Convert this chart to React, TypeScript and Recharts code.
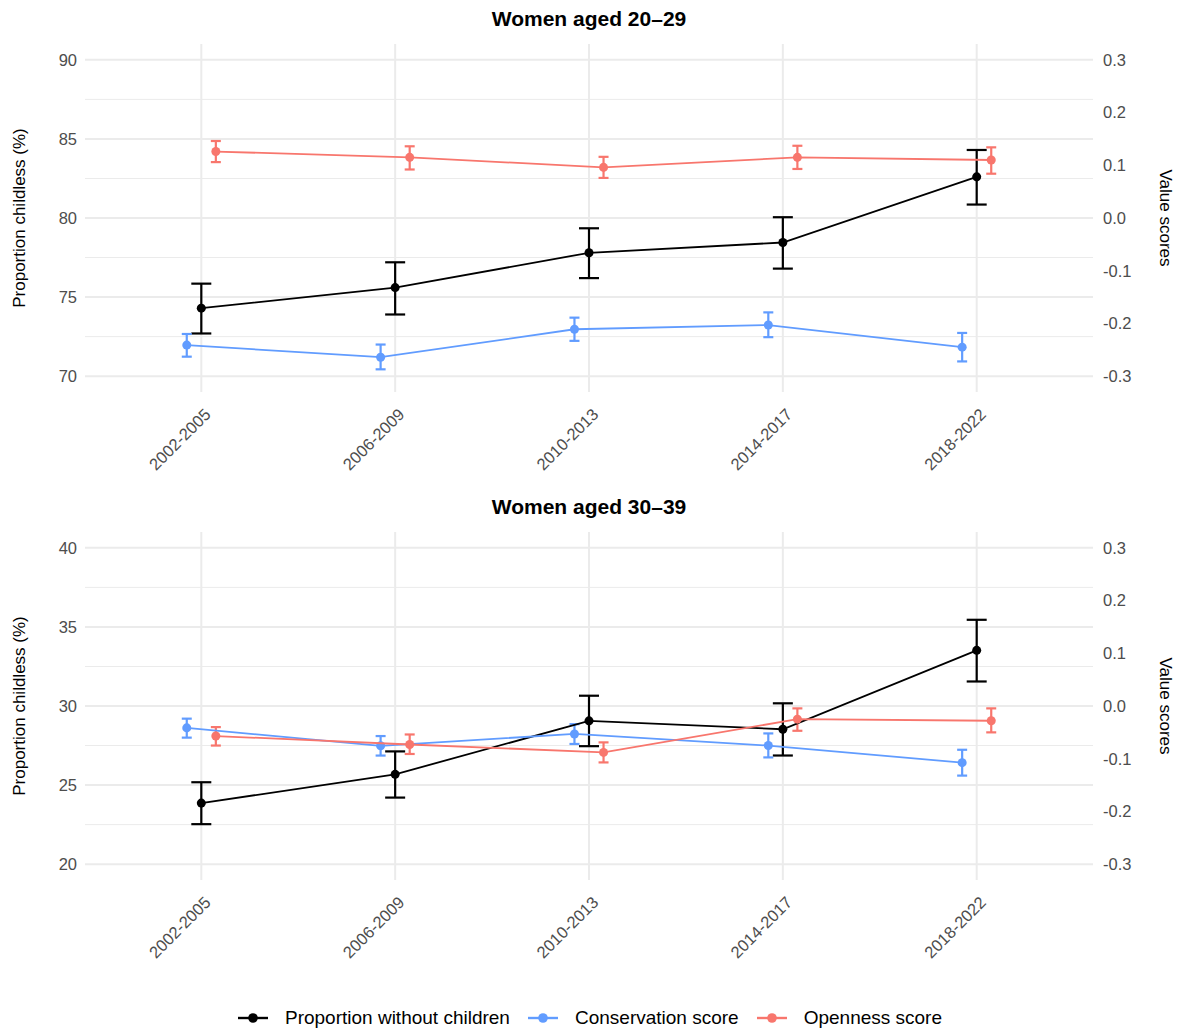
import {
  ComposedChart,
  Scatter,
  ErrorBar,
  XAxis,
  YAxis,
  CartesianGrid,
} from 'recharts'

const periods = ['2002-2005', '2006-2009', '2010-2013', '2014-2017', '2018-2022']

// Women aged 20–29
const childless20 = [74.3, 75.6, 77.8, 78.45, 82.6]
const childless20Lo = [72.7, 73.9, 76.2, 76.8, 80.85]
const childless20Hi = [75.85, 77.2, 79.35, 80.05, 84.3]
const conservation20 = [-0.241, -0.264, -0.211, -0.203, -0.245]
const conservation20Lo = [-0.263, -0.287, -0.233, -0.226, -0.272]
const conservation20Hi = [-0.22, -0.24, -0.189, -0.179, -0.218]
const openness20 = [0.126, 0.115, 0.096, 0.115, 0.11]
const openness20Lo = [0.106, 0.092, 0.076, 0.093, 0.084]
const openness20Hi = [0.146, 0.136, 0.116, 0.137, 0.134]

// Women aged 30–39
const childless30 = [23.86, 25.68, 29.06, 28.53, 33.52]
const childless30Lo = [22.53, 24.21, 27.46, 26.87, 31.55]
const childless30Hi = [25.18, 27.13, 30.65, 30.17, 35.45]
const conservation30 = [-0.0415, -0.0755, -0.053, -0.075, -0.1075]
const conservation30Lo = [-0.06, -0.094, -0.072, -0.0975, -0.132]
const conservation30Hi = [-0.024, -0.057, -0.0345, -0.052, -0.083]
const openness30 = [-0.057, -0.073, -0.088, -0.025, -0.028]
const openness30Lo = [-0.075, -0.091, -0.107, -0.047, -0.05]
const openness30Hi = [-0.04, -0.054, -0.069, -0.0045, -0.0045]

const scoreTicks = [-0.3, -0.2, -0.1, 0, 0.1, 0.2, 0.3]
const periodTicks = [0, 1, 2, 3, 4]

const BLACK = '#000000'
const BLUE = '#619CFF'
const RED = '#F8766D'
const FONT = '"Liberation Sans", Arial, Helvetica, sans-serif'

// dodge: conservation shifted left, openness right
const DODGE = 0.075

function rows(vals: number[], lo: number[], hi: number[], shift: number) {
  return vals.map((v, i) => ({ x: i + shift, y: v, err: [v - lo[i], hi[i] - v] }))
}

function PeriodTick(props: any) {
  const { x, y, payload } = props
  return (
    <g transform={`translate(${x + 2},${y + 7})`}>
      <text
        transform="rotate(-45)"
        textAnchor="end"
        dy="0.72em"
        fontSize={16.5}
        fill="#4D4D4D"
        fontFamily={FONT}
      >
        {periods[payload.value]}
      </text>
    </g>
  )
}

interface PanelProps {
  title: string
  top: number
  domain: [number, number]
  ticks: number[]
  minor: number[]
  childless: ReturnType<typeof rows>
  conservation: ReturnType<typeof rows>
  openness: ReturnType<typeof rows>
}

function Panel({ title, top, domain, ticks, minor, childless, conservation, openness }: PanelProps) {
  return (
    <div style={{ position: 'absolute', top, left: 0, width: 1180, height: 490 }}>
      <div
        style={{
          position: 'absolute',
          top: 7,
          left: 0,
          width: 1178,
          textAlign: 'center',
          fontWeight: 'bold',
          fontSize: 21,
          lineHeight: '24px',
          color: '#000',
        }}
      >
        {title}
      </div>
      <ComposedChart width={1180} height={490} margin={{ top: 44, right: 0, bottom: 0, left: 0 }}>
        <CartesianGrid
          yAxisId="left"
          vertical={false}
          horizontalValues={minor}
          stroke="#EBEBEB"
          strokeWidth={1}
        />
        <CartesianGrid
          yAxisId="left"
          stroke="#EBEBEB"
          strokeWidth={2}
          horizontalValues={ticks}
          verticalValues={periodTicks}
        />
        <XAxis
          type="number"
          dataKey="x"
          domain={[-0.6, 4.6]}
          ticks={periodTicks}
          allowDataOverflow
          axisLine={false}
          tickLine={false}
          height={98}
          tick={<PeriodTick />}
        />
        <YAxis
          yAxisId="left"
          dataKey="y"
          type="number"
          domain={domain}
          ticks={ticks}
          allowDataOverflow
          axisLine={false}
          tickLine={false}
          width={85}
          tick={{ fontSize: 16.5, fill: '#4D4D4D', fontFamily: FONT }}
          label={{
            value: 'Proportion childless (%)',
            angle: -90,
            position: 'insideLeft',
            offset: 19,
            style: { textAnchor: 'middle', fontSize: 17, fill: '#000', fontFamily: FONT },
          }}
        />
        <YAxis
          yAxisId="right"
          orientation="right"
          dataKey="y"
          type="number"
          domain={[-0.33, 0.33]}
          ticks={scoreTicks}
          allowDataOverflow
          axisLine={false}
          tickLine={false}
          tickMargin={4}
          width={87}
          tickFormatter={(v: number) => v.toFixed(1)}
          tick={{ fontSize: 16.5, fill: '#4D4D4D', fontFamily: FONT, textAnchor: 'start' }}
          label={{
            value: 'Value scores',
            angle: 90,
            position: 'insideRight',
            offset: 14,
            style: { textAnchor: 'middle', fontSize: 17, fill: '#000', fontFamily: FONT },
          }}
        />
        <Scatter
          yAxisId="left"
          data={childless}
          fill={BLACK}
          line={{ stroke: BLACK, strokeWidth: 1.8 }}
          lineType="joint"
          isAnimationActive={false}
        >
          <ErrorBar dataKey="err" direction="y" width={10} stroke={BLACK} strokeWidth={2.2} isAnimationActive={false} />
        </Scatter>
        <Scatter
          yAxisId="right"
          data={conservation}
          fill={BLUE}
          line={{ stroke: BLUE, strokeWidth: 1.8 }}
          lineType="joint"
          isAnimationActive={false}
        >
          <ErrorBar dataKey="err" direction="y" width={5} stroke={BLUE} strokeWidth={2.2} isAnimationActive={false} />
        </Scatter>
        <Scatter
          yAxisId="right"
          data={openness}
          fill={RED}
          line={{ stroke: RED, strokeWidth: 1.8 }}
          lineType="joint"
          isAnimationActive={false}
        >
          <ErrorBar dataKey="err" direction="y" width={5} stroke={RED} strokeWidth={2.2} isAnimationActive={false} />
        </Scatter>
      </ComposedChart>
    </div>
  )
}

function LegendKey({ color, label }: { color: string; label: string }) {
  return (
    <div style={{ display: 'flex', alignItems: 'center', marginRight: 18 }}>
      <svg width={30} height={12} style={{ marginRight: 17 }}>
        <line x1={0} y1={6} x2={30} y2={6} stroke={color} strokeWidth={2.4} />
        <circle cx={15} cy={6} r={4.8} fill={color} />
      </svg>
      <span>{label}</span>
    </div>
  )
}

export default function App() {
  return (
    <div
      style={{
        position: 'relative',
        width: 1180,
        height: 1030,
        background: '#fff',
        fontFamily: FONT,
        overflow: 'hidden',
      }}
    >
      <style>{'body{margin:0}'}</style>
      <Panel
        title="Women aged 20–29"
        top={0}
        domain={[69, 91]}
        ticks={[70, 75, 80, 85, 90]}
        minor={[72.5, 77.5, 82.5, 87.5]}
        childless={rows(childless20, childless20Lo, childless20Hi, 0)}
        conservation={rows(conservation20, conservation20Lo, conservation20Hi, -DODGE)}
        openness={rows(openness20, openness20Lo, openness20Hi, DODGE)}
      />
      <Panel
        title="Women aged 30–39"
        top={488}
        domain={[19, 41]}
        ticks={[20, 25, 30, 35, 40]}
        minor={[22.5, 27.5, 32.5, 37.5]}
        childless={rows(childless30, childless30Lo, childless30Hi, 0)}
        conservation={rows(conservation30, conservation30Lo, conservation30Hi, -DODGE)}
        openness={rows(openness30, openness30Lo, openness30Hi, DODGE)}
      />
      <div
        style={{
          position: 'absolute',
          top: 1006,
          left: 9,
          width: 1180,
          display: 'flex',
          justifyContent: 'center',
          fontSize: 19,
          lineHeight: '24px',
          color: '#000',
        }}
      >
        <LegendKey color={BLACK} label="Proportion without children" />
        <LegendKey color={BLUE} label="Conservation score" />
        <LegendKey color={RED} label="Openness score" />
      </div>
    </div>
  )
}
